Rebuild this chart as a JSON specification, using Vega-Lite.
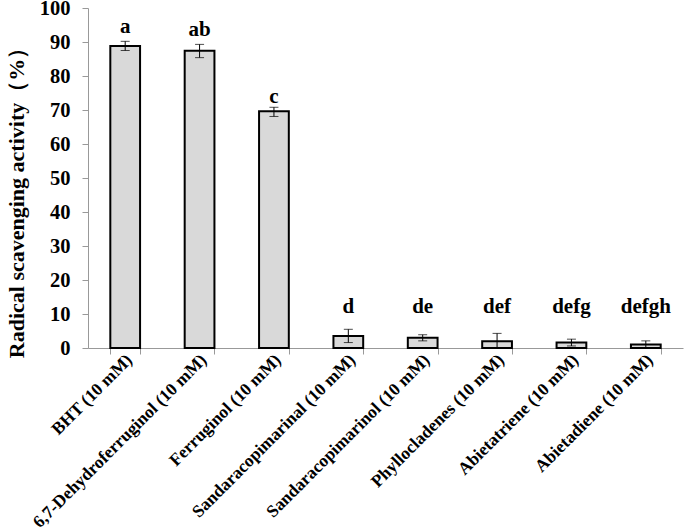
{
  "$schema": "https://vega.github.io/schema/vega-lite/v6.json",
  "width": 595,
  "height": 340,
  "autosize": {"type": "none"},
  "padding": {"left": 88, "top": 8, "right": 2, "bottom": 184},
  "background": "white",
  "data": {
    "values": [
      {"compound": "BHT (10 mM)", "activity": 88.8, "lo": 87.5, "hi": 90.2, "letter": "a", "label_y": 92.6},
      {"compound": "6,7-Dehydroferruginol (10 mM)", "activity": 87.4, "lo": 85.4, "hi": 89.3, "letter": "ab", "label_y": 91.9},
      {"compound": "Ferruginol (10 mM)", "activity": 69.6, "lo": 68.1, "hi": 70.8, "letter": "c", "label_y": 72.0},
      {"compound": "Sandaracopimarinal (10 mM)", "activity": 3.5, "lo": 1.6, "hi": 5.5, "letter": "d", "label_y": 10.3},
      {"compound": "Sandaracopimarinol (10 mM)", "activity": 3.0, "lo": 2.1, "hi": 3.9, "letter": "de", "label_y": 10.3},
      {"compound": "Phyllocladenes (10 mM)", "activity": 2.0, "lo": 0.0, "hi": 4.3, "letter": "def", "label_y": 10.3},
      {"compound": "Abietatriene (10 mM)", "activity": 1.6, "lo": 0.6, "hi": 2.6, "letter": "defg", "label_y": 10.3},
      {"compound": "Abietadiene (10 mM)", "activity": 1.0, "lo": 0.0, "hi": 2.1, "letter": "defgh", "label_y": 10.3}
    ]
  },
  "config": {
    "view": {"stroke": null},
    "font": "Liberation Serif",
    "axisY": {
      "titleFont": "Liberation Serif",
      "titleFontWeight": "bold",
      "titleFontSize": 22,
      "titleColor": "black",
      "titlePadding": 11,
      "titleY": 189,
      "labelFont": "Liberation Serif",
      "labelFontWeight": "bold",
      "labelFontSize": 20.5,
      "labelColor": "black",
      "labelPadding": 12,
      "labelOverlap": false,
      "tickColor": "#999999",
      "tickSize": 6,
      "domainColor": "#999999",
      "grid": false
    }
  },
  "encoding": {
    "x": {
      "field": "compound",
      "type": "nominal",
      "sort": null,
      "scale": {"paddingInner": 0.6, "paddingOuter": 0.3},
      "axis": {
        "title": null,
        "labelAngle": -45,
        "labelAlign": "right",
        "labelBaseline": "middle",
        "labelFont": "Liberation Serif",
        "labelFontWeight": "bold",
        "labelFontSize": 17.5,
        "labelColor": "black",
        "labelPadding": 3,
        "labelOffset": 4,
        "labelLimit": 400,
        "tickBand": "extent",
        "tickColor": "#999999",
        "tickSize": 6,
        "domainColor": "#999999",
        "domainWidth": 1
      }
    }
  },
  "layer": [
    {
      "mark": {"type": "bar", "fill": "#d9d9d9", "stroke": "black", "strokeWidth": 2},
      "encoding": {
        "y": {
          "field": "activity",
          "type": "quantitative",
          "title": "Radical scavenging activity（%）",
          "scale": {"domain": [0, 100], "nice": false},
          "axis": {"values": [0, 10, 20, 30, 40, 50, 60, 70, 80, 90, 100]}
        }
      }
    },
    {
      "mark": {"type": "errorbar", "ticks": {"size": 9, "color": "black", "strokeWidth": 1}, "rule": {"color": "black", "strokeWidth": 1}},
      "encoding": {
        "y": {"field": "lo", "type": "quantitative", "title": "Radical scavenging activity（%）", "axis": {"values": [0, 10, 20, 30, 40, 50, 60, 70, 80, 90, 100]}},
        "y2": {"field": "hi"}
      }
    },
    {
      "mark": {"type": "text", "font": "Liberation Serif", "fontWeight": "bold", "fontSize": 21, "color": "black", "baseline": "alphabetic", "align": "center"},
      "encoding": {
        "y": {"field": "label_y", "type": "quantitative", "title": "Radical scavenging activity（%）", "axis": {"values": [0, 10, 20, 30, 40, 50, 60, 70, 80, 90, 100]}},
        "text": {"field": "letter"}
      }
    }
  ]
}
